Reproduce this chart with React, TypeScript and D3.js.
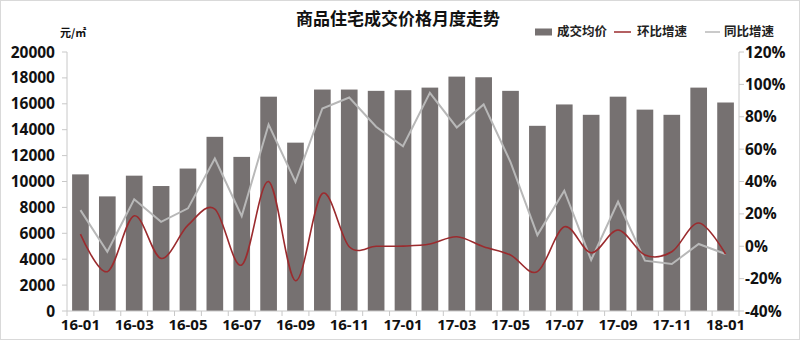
import React from "react";
import * as d3 from "d3";

const months = [
  "16-01","16-02","16-03","16-04","16-05","16-06","16-07","16-08","16-09","16-10","16-11","16-12",
  "17-01","17-02","17-03","17-04","17-05","17-06","17-07","17-08","17-09","17-10","17-11","17-12","18-01",
];
const avgPrice = [
  10550, 8850, 10450, 9650, 11000, 13450, 11900, 16550, 13000, 17100, 17100, 17000,
  17050, 17250, 18100, 18050, 17000, 14300, 15950, 15150, 16550, 15550, 15150, 17250, 16100,
];
const momGrowth = [
  7.5, -15.7, 18.8, -7.5, 13, 23, -11.6, 40, -21.3, 32.6, -0.3, 0,
  0.1, 1.4, 5.9, -0.3, -5.4, -15.7, 12, -4, 10, -5.4, -3.4, 14.4, -4.8,
];
const yoyGrowth = [
  22.3, -3.4, 29, 15.1, 23.4, 54.2, 18.6, 75.2, 39.8, 85.1, 91.9, 73.8,
  61.8, 94.8, 73.4, 87.6, 52, 6.9, 34.3, -8.5, 27.5, -8.9, -11, 1.4, -4.8,
];
const leftTicks = [0, 2000, 4000, 6000, 8000, 10000, 12000, 14000, 16000, 18000, 20000];
const rightTicks = [-40, -20, 0, 20, 40, 60, 80, 100, 120];

const W = 800, H = 340;
const plotL = 67, plotR = 739, plotT = 52, plotB = 311;
const font = "'Noto Sans CJK SC', 'Noto Sans', sans-serif";
const numFont = "'Open Sans', 'Noto Sans', sans-serif";
const barColor = "#767171";
const redColor = "#9b2b2e";
const grayColor = "#b8b8b8";
const axisColor = "#c8c8c8";

export default function App() {
  const x = d3.scaleBand<string>().domain(months).range([plotL, plotR]).paddingInner(0.38).paddingOuter(0.19);
  const yL = d3.scaleLinear().domain([0, 20000]).range([plotB, plotT]);
  const yR = d3.scaleLinear().domain([-40, 120]).range([plotB, plotT]);
  const cx = (m: string) => (x(m) as number) + x.bandwidth() / 2;
  const step = (plotR - plotL) / months.length;

  const redLine = d3.line<number>()
    .x((_, i) => cx(months[i]))
    .y((d) => yR(d))
    .curve(d3.curveCatmullRom.alpha(0));
  const grayLine = d3.line<number>()
    .x((_, i) => cx(months[i]))
    .y((d) => yR(d));

  return (
    <svg width={W} height={H} style={{ position: "absolute", left: 0, top: 0, background: "#fff" }}>
      <rect x={0.5} y={0.5} width={W - 1} height={H - 1} fill="#fff" stroke="#d9d9d9" />
      <text x={398} y={25} textAnchor="middle" fontFamily={font} fontWeight="bold" fontSize={17} fill="#111">
        商品住宅成交价格月度走势
      </text>
      <text x={60} y={37} fontFamily={font} fontWeight="bold" fontSize={11} fill="#111">元/㎡</text>

      {/* legend */}
      <g fontFamily={font} fontSize={12.5} fontWeight="bold" fill="#222">
        <rect x={535} y={28.5} width={17} height={7} fill={barColor} />
        <text x={557} y={36}>成交均价</text>
        <line x1={614} x2={631} y1={32} y2={32} stroke={redColor} strokeWidth={1.5} />
        <text x={637} y={36}>环比增速</text>
        <line x1={705} x2={720} y1={32} y2={32} stroke={grayColor} strokeWidth={1.5} />
        <text x={724} y={36}>同比增速</text>
      </g>

      {/* bars */}
      {avgPrice.map((v, i) => (
        <rect key={months[i]} x={x(months[i])} y={yL(v)} width={x.bandwidth()} height={plotB - yL(v)} fill={barColor} />
      ))}

      {/* lines */}
      <path d={grayLine(yoyGrowth) || ""} fill="none" stroke={grayColor} strokeWidth={2} />
      <path d={redLine(momGrowth) || ""} fill="none" stroke={redColor} strokeWidth={1.6} />

      {/* left axis */}
      <line x1={plotL} x2={plotL} y1={plotT} y2={plotB} stroke={axisColor} />
      {leftTicks.map((t) => (
        <g key={"l" + t}>
          <line x1={plotL - 5} x2={plotL} y1={yL(t)} y2={yL(t)} stroke={axisColor} />
          <text x={55} y={yL(t) + 5.5} textAnchor="end" fontFamily={numFont} fontWeight="bold" fontSize={15.5} fill="#111">
            {t}
          </text>
        </g>
      ))}

      {/* right axis */}
      <line x1={plotR} x2={plotR} y1={plotT} y2={plotB} stroke={axisColor} />
      {rightTicks.map((t) => (
        <g key={"r" + t}>
          <line x1={plotR} x2={plotR + 5} y1={yR(t)} y2={yR(t)} stroke={axisColor} />
          <text x={745} y={yR(t) + 5.5} textAnchor="start" fontFamily={numFont} fontWeight="bold" fontSize={15.5} fill="#111">
            {t}%
          </text>
        </g>
      ))}

      {/* x axis */}
      <line x1={plotL} x2={plotR} y1={plotB} y2={plotB} stroke={axisColor} />
      {months.map((m, i) => (
        <line key={"xt" + m} x1={plotL + step * i} x2={plotL + step * i} y1={plotB} y2={plotB + 5} stroke={axisColor} />
      ))}
      <line x1={plotR} x2={plotR} y1={plotB} y2={plotB + 5} stroke={axisColor} />
      {months.map((m, i) =>
        i % 2 === 0 ? (
          <text key={"xl" + m} x={cx(m)} y={330} textAnchor="middle" fontFamily={numFont} fontWeight="bold" fontSize={15} fill="#111">
            {m}
          </text>
        ) : null
      )}
    </svg>
  );
}
